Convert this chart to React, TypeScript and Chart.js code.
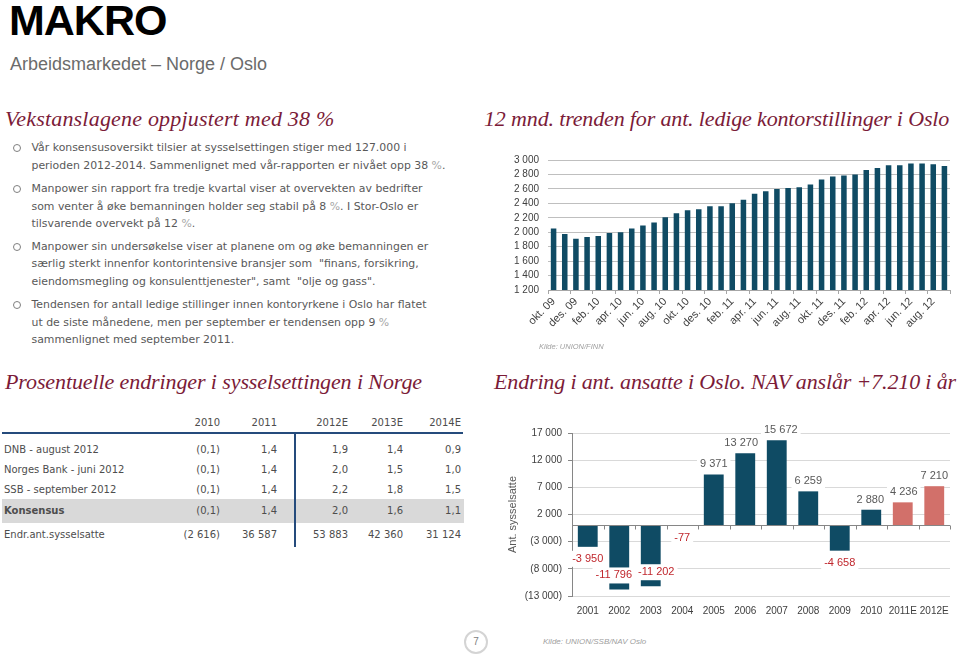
import React, { useEffect, useRef } from "react";
import { Chart, registerables } from "chart.js";

Chart.register(...registerables);

// ---------- data ----------
const trendMonths = [
  "okt. 09", "nov. 09", "des. 09", "jan. 10", "feb. 10", "mar. 10", "apr. 10", "mai. 10", "jun. 10",
  "jul. 10", "aug. 10", "sep. 10", "okt. 10", "nov. 10", "des. 10", "jan. 11", "feb. 11", "mar. 11",
  "apr. 11", "mai. 11", "jun. 11", "jul. 11", "aug. 11", "sep. 11", "okt. 11", "nov. 11", "des. 11",
  "jan. 12", "feb. 12", "mar. 12", "apr. 12", "mai. 12", "jun. 12", "jul. 12", "aug. 12", "sep. 12",
];
const trendValues = [
  2052, 1976, 1910, 1935, 1948, 1988, 1998, 2052, 2092, 2133, 2209, 2264, 2305, 2318, 2359, 2359,
  2402, 2450, 2532, 2568, 2600, 2614, 2624, 2662, 2730, 2770, 2784, 2798, 2862, 2889, 2928, 2928,
  2952, 2952, 2941, 2916,
];
const trendMin = 1200;
const trendMax = 3000;
const trendStep = 200;

const osloYears = ["2001", "2002", "2003", "2004", "2005", "2006", "2007", "2008", "2009", "2010", "2011E", "2012E"];
const osloChange = [-3950, -11796, -11202, -77, 9371, 13270, 15672, 6259, -4658, 2880, 4236, 7210];
const osloMin = -13000;
const osloMax = 17000;
const osloStep = 5000;

const tableYears = ["2010", "2011", "2012E", "2013E", "2014E"];
const tableLabels = ["DNB - august 2012", "Norges Bank - juni 2012", "SSB - september 2012", "Konsensus", "Endr.ant.sysselsatte"];
const rowDnb = ["(0,1)", "1,4", "1,9", "1,4", "0,9"];
const rowNorgesBank = ["(0,1)", "1,4", "2,0", "1,5", "1,0"];
const rowSsb = ["(0,1)", "1,4", "2,2", "1,8", "1,5"];
const rowKonsensus = ["(0,1)", "1,4", "2,0", "1,6", "1,1"];
const rowSysselsatte = ["(2 616)", "36 587", "53 883", "42 360", "31 124"];

const bullets = [
  [
    "Vår konsensusoversikt tilsier at sysselsettingen stiger med 127.000 i",
    "perioden 2012-2014. Sammenlignet med vår-rapporten er nivået opp 38 %.",
  ],
  [
    "Manpower sin rapport fra tredje kvartal viser at overvekten av bedrifter",
    "som venter å øke bemanningen holder seg stabil på 8 %. I Stor-Oslo er",
    "tilsvarende overvekt på 12 %.",
  ],
  [
    "Manpower sin undersøkelse viser at planene om og øke bemanningen er",
    "særlig sterkt innenfor kontorintensive bransjer som  \"finans, forsikring,",
    "eiendomsmegling og konsulenttjenester\", samt  \"olje og gass\".",
  ],
  [
    "Tendensen for antall ledige stillinger innen kontoryrkene i Oslo har flatet",
    "ut de siste månedene, men per september er tendensen opp 9 %",
    "sammenlignet med september 2011.",
  ],
];

// ---------- helpers ----------
const SANS = '"Liberation Sans", Arial, sans-serif';
const BODY = '"DejaVu Sans", Verdana, sans-serif';
const SERIF = '"Liberation Serif", "Times New Roman", serif';
const TEAL = "#0f4b64";
const SALMON = "#d2706a";
const MAROON = "#7b1b38";

function groupThousands(n: number): string {
  const s = Math.round(Math.abs(n)).toString();
  return s.replace(/\B(?=(\d{3})+(?!\d))/g, " ");
}
function fmtSigned(n: number): string {
  return (n < 0 ? "-" : "") + groupThousands(n);
}
function fmtParen(n: number): string {
  return n < 0 ? "(" + groupThousands(n) + ")" : groupThousands(n);
}

function withPct(line: string) {
  const parts = line.split("%");
  const out: React.ReactNode[] = [];
  parts.forEach((p, i) => {
    out.push(<span key={"p" + i}>{p}</span>);
    if (i < parts.length - 1) out.push(<span key={"s" + i} style={{ color: "#a6a6a6" }}>%</span>);
  });
  return out;
}

// ---------- charts ----------
function TrendChart() {
  const ref = useRef<HTMLCanvasElement>(null);
  useEffect(() => {
    const chart = new Chart(ref.current as HTMLCanvasElement, {
      type: "bar",
      data: {
        labels: trendMonths,
        datasets: [
          {
            data: trendValues,
            backgroundColor: TEAL,
            barPercentage: 0.9,
            categoryPercentage: 0.55,
          },
        ],
      },
      options: {
        animation: false,
        responsive: false,
        layout: { padding: { left: 0, right: 9, top: 11, bottom: 0 } },
        plugins: { legend: { display: false }, tooltip: { enabled: false } },
        scales: {
          x: {
            grid: {
              drawOnChartArea: false,
              drawTicks: true,
              tickLength: 4,
              offset: true,
              color: (ctx: any) =>
                ctx.index === undefined || ctx.index % 2 === 0 ? "#a6a6a6" : "rgba(0,0,0,0)",
            },
            border: { display: true, color: "#a6a6a6" },
            ticks: {
              autoSkip: false,
              maxRotation: 45,
              minRotation: 45,
              padding: 1,
              color: "#404040",
              font: { family: SANS, size: 11 },
              callback: (_v: any, i: number) => (i % 2 === 0 ? trendMonths[i] : ""),
            },
            afterFit: (s: any) => {
              s.height = 55;
            },
          },
          y: {
            min: trendMin,
            max: trendMax,
            ticks: {
              stepSize: trendStep,
              autoSkip: false,
              padding: 9,
              color: "#404040",
              font: { family: SANS, size: 10 },
              callback: (v: any) => groupThousands(Number(v)),
            },
            grid: { color: "#bfbfbf", drawTicks: false },
            border: { display: false },
            afterFit: (s: any) => {
              s.width = 53;
            },
          },
        },
      },
    } as any);
    return () => chart.destroy();
  }, []);
  return (
    <div style={{ position: "absolute", left: 495, top: 145, width: 464, height: 200 }}>
      <canvas ref={ref} width={464} height={200} />
    </div>
  );
}

const osloPlugin = {
  id: "osloLabels",
  afterDatasetsDraw(chart: any) {
    const { ctx, chartArea } = chart;
    const ys = chart.scales.y;
    const n = chart.data.labels.length;
    const y0 = Math.round(ys.getPixelForValue(0)) + 0.5;
    const cw = (chartArea.right - chartArea.left) / n;
    ctx.save();
    ctx.strokeStyle = "#868686";
    ctx.lineWidth = 1;
    ctx.beginPath();
    ctx.moveTo(chartArea.left, y0);
    ctx.lineTo(chartArea.right, y0);
    for (let i = 0; i <= n; i++) {
      const x = Math.round(chartArea.left + i * cw) + 0.5;
      ctx.moveTo(x, y0);
      ctx.lineTo(x, y0 + 4);
    }
    ctx.stroke();

    const meta = chart.getDatasetMeta(0);
    const data = chart.data.datasets[0].data as number[];
    ctx.font = '11px "Liberation Sans", Arial, sans-serif';
    ctx.textAlign = "center";
    ctx.textBaseline = "middle";
    const h = 16;
    const boxes = meta.data.map((bar: any, i: number) => {
      const v = data[i];
      const text = fmtSigned(v);
      const w = ctx.measureText(text).width + 6;
      let y: number;
      if (v >= 0) y = bar.y - 10;
      else {
        y = bar.y + 12;
        if (y + h / 2 > chartArea.bottom) y = bar.y - 14;
      }
      return { x: bar.x, y, w, text, v };
    });
    for (let i = 1; i < boxes.length; i++) {
      const a = boxes[i - 1];
      const b = boxes[i];
      if (Math.abs(a.y - b.y) < h) {
        const overlap = a.x + a.w / 2 - (b.x - b.w / 2);
        if (overlap > 0) {
          a.x -= overlap / 2;
          b.x += overlap / 2;
        }
      }
    }
    boxes.forEach((bx: any) => {
      ctx.fillStyle = "#ffffff";
      ctx.fillRect(bx.x - bx.w / 2, bx.y - h / 2, bx.w, h);
      ctx.fillStyle = bx.v < 0 ? "#c0272d" : "#595959";
      ctx.fillText(bx.text, bx.x, bx.y);
    });
    ctx.restore();
  },
};

function OsloChart() {
  const ref = useRef<HTMLCanvasElement>(null);
  useEffect(() => {
    const chart = new Chart(ref.current as HTMLCanvasElement, {
      type: "bar",
      data: {
        labels: osloYears,
        datasets: [
          {
            data: osloChange,
            backgroundColor: osloYears.map((y) => (y.endsWith("E") ? SALMON : TEAL)),
            barPercentage: 0.9,
            categoryPercentage: 0.7,
          },
        ],
      },
      options: {
        animation: false,
        responsive: false,
        layout: { padding: { left: 0, right: 9, top: 18, bottom: 0 } },
        plugins: { legend: { display: false }, tooltip: { enabled: false } },
        scales: {
          x: {
            grid: { display: false },
            border: { display: false },
            ticks: {
              autoSkip: false,
              maxRotation: 0,
              padding: 1,
              color: "#404040",
              font: { family: SANS, size: 10 },
            },
            afterFit: (s: any) => {
              s.height = 34;
            },
          },
          y: {
            min: osloMin,
            max: osloMax,
            ticks: {
              stepSize: osloStep,
              autoSkip: false,
              padding: 6,
              color: "#404040",
              font: { family: SANS, size: 10 },
              callback: (v: any) => fmtParen(Number(v)),
            },
            grid: { color: "#d9d9d9", tickColor: "#868686", tickLength: 4, drawTicks: true },
            border: { display: true, color: "#868686" },
            title: {
              display: true,
              text: "Ant. sysselsatte",
              color: "#595959",
              font: { family: SANS, size: 11 },
              padding: { top: 11, bottom: 0 },
            },
            afterFit: (s: any) => {
              s.width = 77;
            },
          },
        },
      },
      plugins: [osloPlugin],
    } as any);
    return () => chart.destroy();
  }, []);
  return (
    <div style={{ position: "absolute", left: 495, top: 415, width: 464, height: 215 }}>
      <canvas ref={ref} width={464} height={215} />
    </div>
  );
}

// ---------- layout pieces ----------
function Txt(props: {
  x: number;
  y: number;
  size: number;
  lh: number;
  font: string;
  color: string;
  children: React.ReactNode;
  style?: React.CSSProperties;
}) {
  return (
    <div
      style={{
        position: "absolute",
        left: props.x,
        top: props.y,
        fontSize: props.size,
        lineHeight: props.lh + "px",
        fontFamily: props.font,
        color: props.color,
        whiteSpace: "pre",
        ...(props.style || {}),
      }}
    >
      {props.children}
    </div>
  );
}

function RTxt(props: { right: number; yc: number; children: React.ReactNode; bold?: boolean }) {
  return (
    <div
      style={{
        position: "absolute",
        left: props.right - 80,
        width: 80,
        top: props.yc - 7,
        textAlign: "right",
        fontSize: 10,
        lineHeight: "14px",
        fontFamily: BODY,
        color: "#4d4d4d",
        whiteSpace: "pre",
        fontWeight: props.bold ? "bold" : "normal",
      }}
    >
      {props.children}
    </div>
  );
}

function Table() {
  const colRights = [220, 277, 348, 403, 461];
  const rowY = [450, 470, 490, 511, 535];
  const rows = [rowDnb, rowNorgesBank, rowSsb, rowKonsensus, rowSysselsatte];
  return (
    <>
      <div style={{ position: "absolute", left: 2, top: 499, width: 462, height: 24, background: "#d9d9d9" }} />
      <div style={{ position: "absolute", left: 2, top: 432, width: 461, height: 2, background: "#254b7c" }} />
      <div style={{ position: "absolute", left: 294, top: 432, width: 2, height: 115, background: "#254b7c" }} />
      {tableYears.map((y, i) => (
        <RTxt key={"h" + i} right={colRights[i]} yc={422.7}>
          {y}
        </RTxt>
      ))}
      {tableLabels.map((l, r) => (
        <div
          key={"l" + r}
          style={{
            position: "absolute",
            left: 4,
            top: rowY[r] - 7,
            fontSize: 10,
            lineHeight: "14px",
            fontFamily: BODY,
            color: "#4d4d4d",
            whiteSpace: "pre",
            fontWeight: l === "Konsensus" ? "bold" : "normal",
          }}
        >
          {l}
        </div>
      ))}
      {rows.map((row, r) =>
        row.map((v, c) => (
          <RTxt key={"c" + r + "-" + c} right={colRights[c]} yc={rowY[r]}>
            {v}
          </RTxt>
        ))
      )}
    </>
  );
}

function Bullets() {
  const starts = [147.7, 188.3, 246, 304.3];
  const lineGap = 17.8;
  const items: React.ReactNode[] = [];
  bullets.forEach((lines, b) => {
    items.push(
      <div
        key={"c" + b}
        style={{
          position: "absolute",
          left: 13,
          top: starts[b] - 3.5,
          width: 6,
          height: 6,
          border: "1px solid #808080",
          borderRadius: "50%",
        }}
      />
    );
    lines.forEach((ln, i) => {
      items.push(
        <Txt key={"t" + b + "-" + i} x={31.5} y={starts[b] + i * lineGap - 7.5} size={10.9} lh={15} font={BODY} color="#595959">
          {withPct(ln)}
        </Txt>
      );
    });
  });
  return <>{items}</>;
}

export default function App() {
  return (
    <div
      style={{
        position: "absolute",
        left: 0,
        top: 0,
        width: 959,
        height: 655,
        background: "#ffffff",
        overflow: "hidden",
      }}
    >
      <Txt x={9} y={-1} size={43} lh={43} font={SANS} color="#000000" style={{ fontWeight: "bold", letterSpacing: -1.0 }}>
        MAKRO
      </Txt>
      <Txt x={10} y={53} size={18} lh={22} font={SANS} color="#6b6b6b">
        Arbeidsmarkedet – Norge / Oslo
      </Txt>

      <Txt x={5} y={105} size={22} lh={27} font={SERIF} color={MAROON} style={{ fontStyle: "italic", letterSpacing: 0.2 }}>
        Vekstanslagene oppjustert med 38 %
      </Txt>
      <Txt x={484} y={105} size={22} lh={27} font={SERIF} color={MAROON} style={{ fontStyle: "italic", letterSpacing: -0.15 }}>
        12 mnd. trenden for ant. ledige kontorstillinger i Oslo
      </Txt>
      <Txt x={5} y={368} size={22} lh={27} font={SERIF} color={MAROON} style={{ fontStyle: "italic", letterSpacing: -0.1 }}>
        Prosentuelle endringer i sysselsettingen i Norge
      </Txt>
      <Txt x={494} y={368} size={22} lh={27} font={SERIF} color={MAROON} style={{ fontStyle: "italic", letterSpacing: -0.15 }}>
        Endring i ant. ansatte i Oslo. NAV anslår +7.210 i år
      </Txt>

      <Bullets />
      <Table />

      <TrendChart />
      <Txt x={539} y={341} size={7.5} lh={12} font={SANS} color="#a0a0a0" style={{ fontStyle: "italic" }}>
        Kilde: UNION/FINN
      </Txt>

      <OsloChart />
      <Txt x={543} y={636} size={8} lh={12} font={SANS} color="#a0a0a0" style={{ fontStyle: "italic" }}>
        Kilde: UNION/SSB/NAV Oslo
      </Txt>

      <div
        style={{
          position: "absolute",
          left: 464,
          top: 630,
          width: 20,
          height: 20,
          border: "2px solid #d4d4d4",
          borderRadius: "50%",
          textAlign: "center",
          lineHeight: "20px",
          fontSize: 10,
          fontFamily: SANS,
          color: "#808080",
        }}
      >
        7
      </div>
    </div>
  );
}
